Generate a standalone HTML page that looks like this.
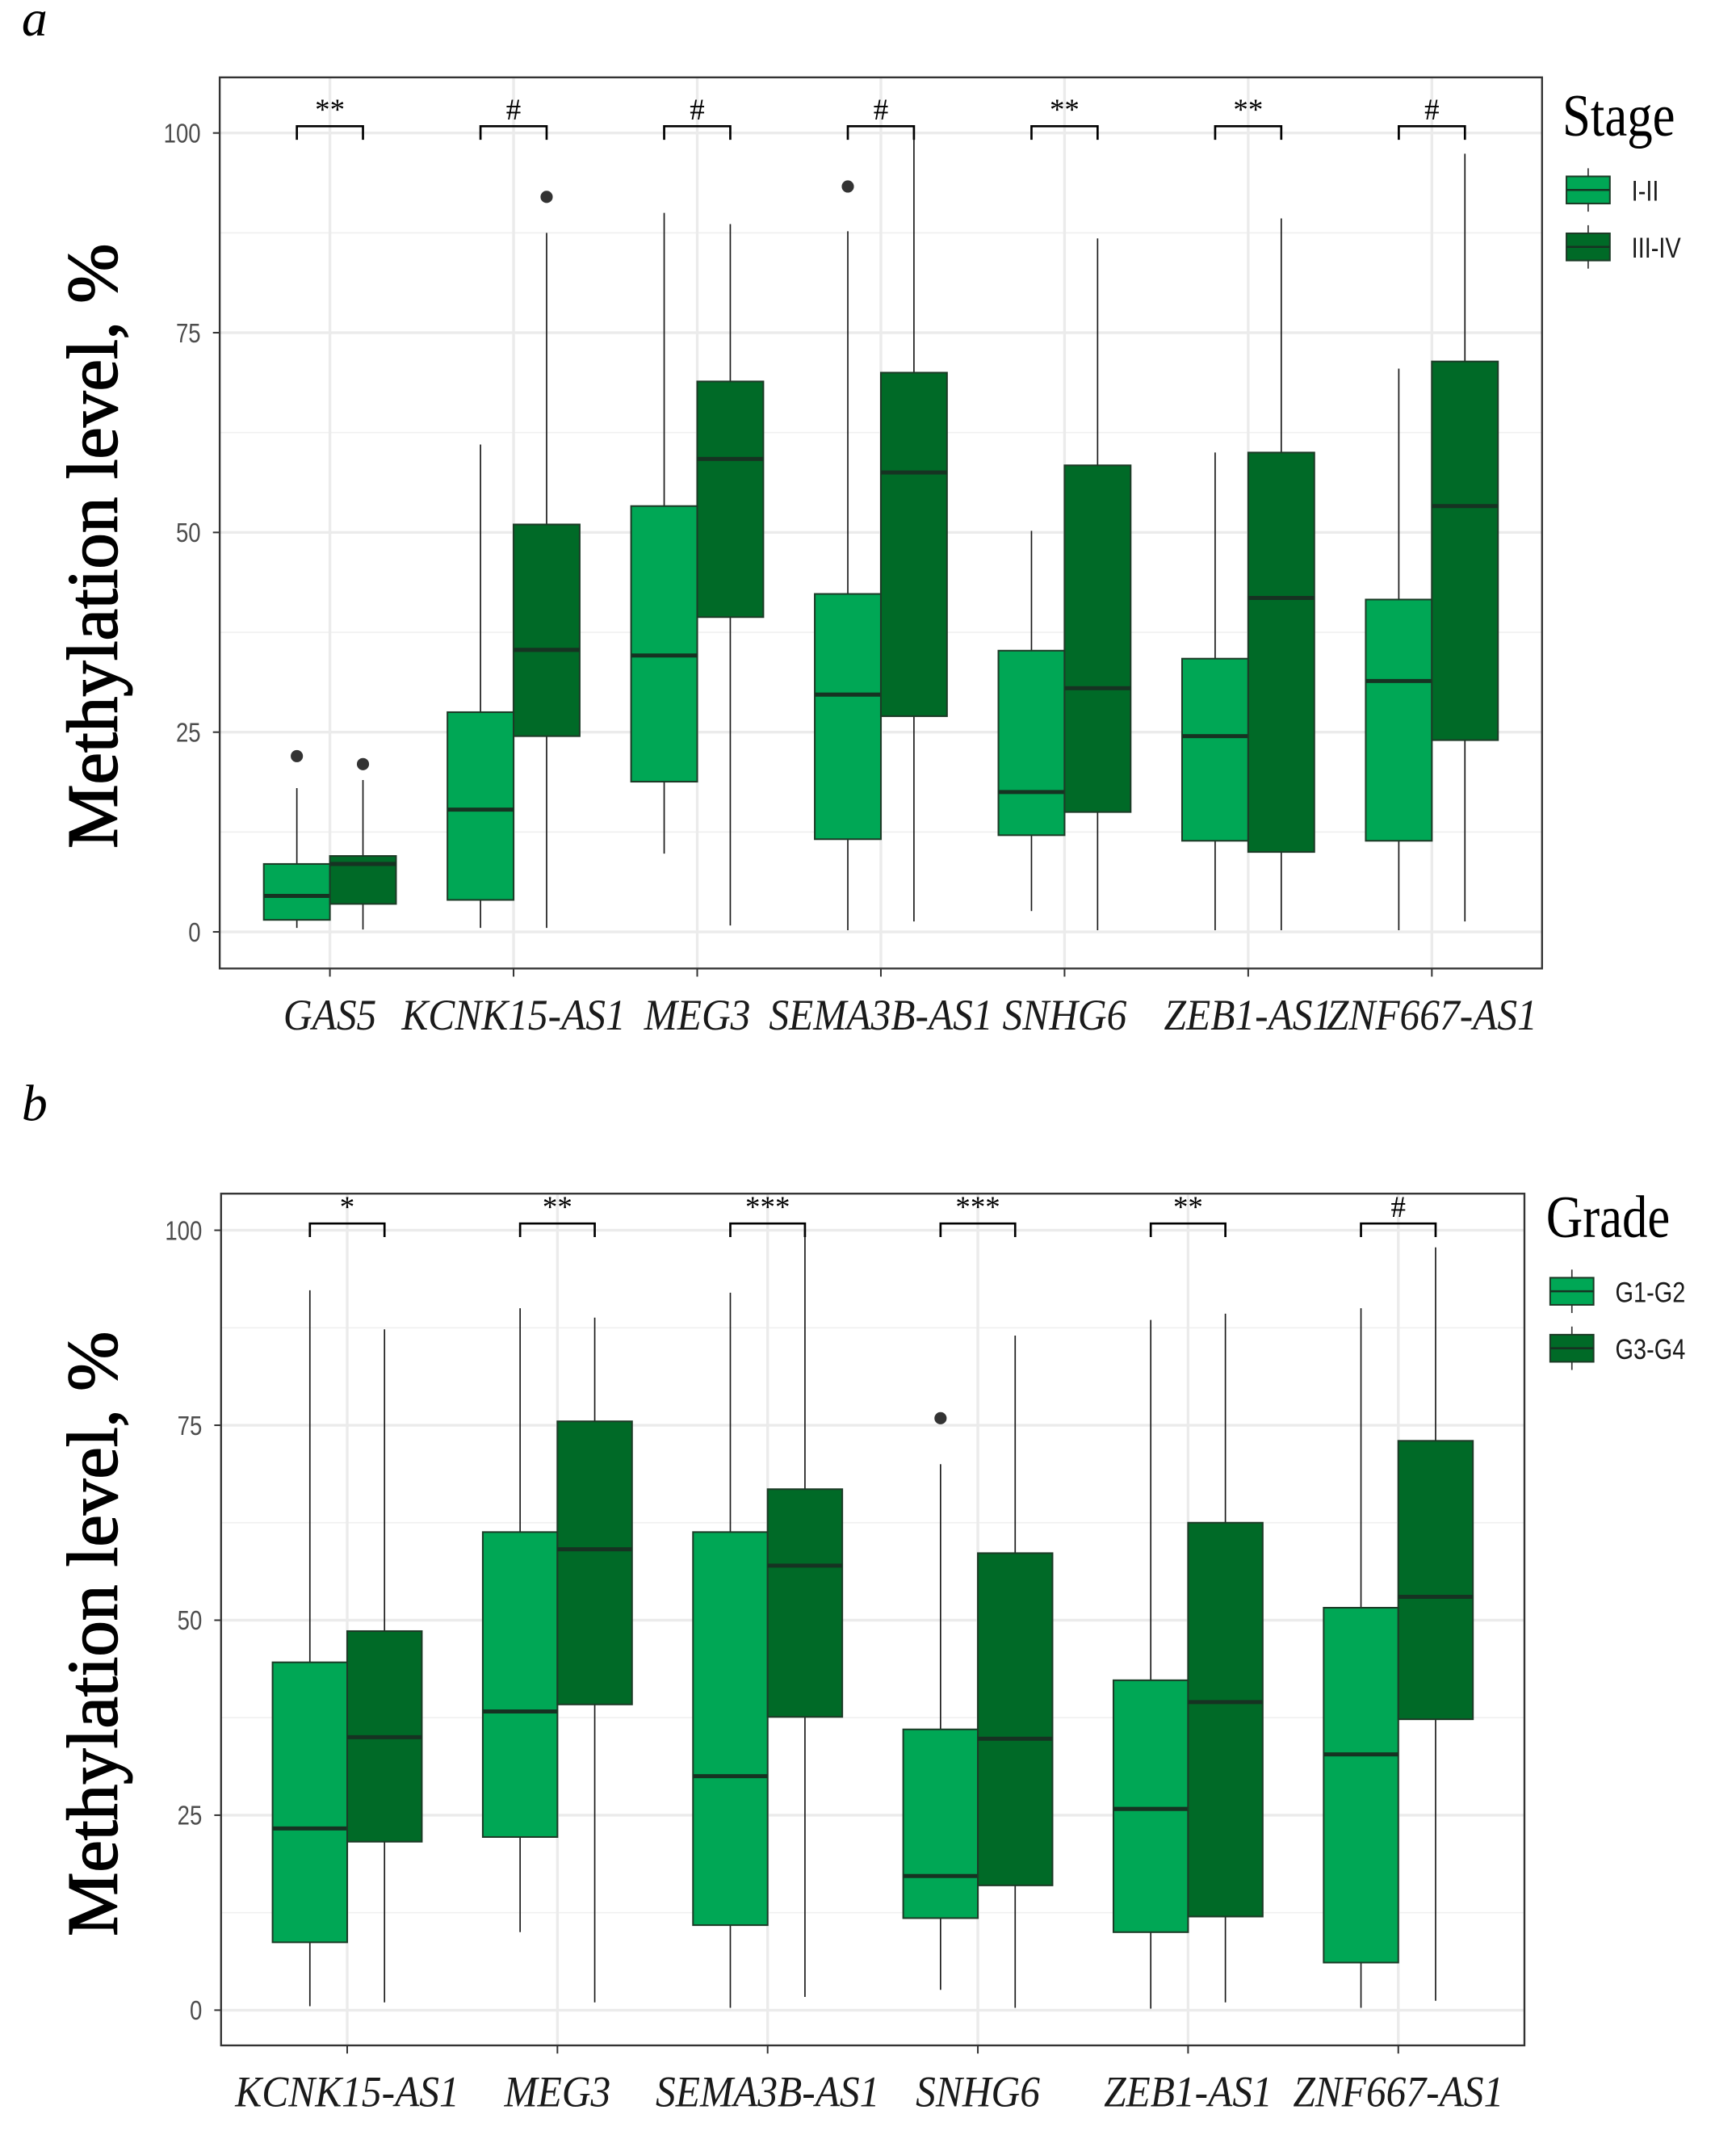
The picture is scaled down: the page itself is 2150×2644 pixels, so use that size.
<!DOCTYPE html>
<html><head><meta charset="utf-8"><style>
html,body{margin:0;padding:0;background:#fff}
svg{display:block}
.tick{font-family:"Liberation Sans Narrow","Liberation Sans",sans-serif;font-size:20px;fill:#4d4d4d}
.xl{font-family:"Liberation Serif",serif;font-style:italic;font-size:32px;fill:#1a1a1a}
.yt{font-family:"Liberation Serif",serif;font-size:53px;fill:#000;stroke:#000;stroke-width:0.9px}
.lt{font-family:"Liberation Serif",serif;font-size:44px;fill:#000}
.ll{font-family:"Liberation Sans",sans-serif;font-size:21px;fill:#1a1a1a}
.pl{font-family:"Liberation Serif",serif;font-style:italic;font-size:38px;fill:#000}
.sig{font-family:"Liberation Serif",serif;font-size:22px;fill:#000}
</style></head><body>
<svg id="fig" width="2150" height="2644" viewBox="0 0 1280 1574" xmlns="http://www.w3.org/2000/svg"></svg>
<script>
// Panel a data
const catsA = ["GAS5","KCNK15-AS1","MEG3","SEMA3B-AS1","SNHG6","ZEB1-AS1","ZNF667-AS1"];
const sigA = ["**","#","#","#","**","**","#"];
const lowA1 = [0.5,0.5,9.8,0.2,2.6,0.2,0.2];
const q1A1 = [1.5,4,18.8,11.6,12.1,11.4,11.4];
const medA1 = [4.5,15.3,34.6,29.7,17.5,24.5,31.4];
const q3A1 = [8.5,27.5,53.3,42.3,35.2,34.2,41.6];
const highA1 = [18,61,90,87.7,50.2,60,70.5];
const outA1 = [22,null,null,93.3,null,null,null];
const lowA2 = [0.3,0.5,0.8,1.3,0.2,0.2,1.3];
const q1A2 = [3.5,24.5,39.4,27,15,10,24];
const medA2 = [8.5,35.3,59.2,57.5,30.5,41.8,53.3];
const q3A2 = [9.5,51,68.9,70,58.4,60,71.4];
const highA2 = [19,87.5,88.6,99.5,86.8,89.3,97.4];
const outA2 = [21,92,null,null,null,null,null];
// Panel b data
const catsB = ["KCNK15-AS1","MEG3","SEMA3B-AS1","SNHG6","ZEB1-AS1","ZNF667-AS1"];
const sigB = ["*","**","***","***","**","#"];
const lowB1 = [0.5,10,0.3,2.6,0.2,0.3];
const q1B1 = [8.7,22.2,10.9,11.8,10,6.1];
const medB1 = [23.3,38.3,30,17.2,25.8,32.8];
const q3B1 = [44.6,61.3,61.3,36,42.3,51.6];
const highB1 = [92.3,90,92,70,88.5,90];
const outB1 = [null,null,null,75.9,null,null];
const lowB2 = [1,1,1.7,0.3,1,1.2];
const q1B2 = [21.6,39.2,37.6,16,12,37.3];
const medB2 = [35,59.1,57,34.8,39.5,53];
const q3B2 = [48.6,75.5,66.8,58.6,62.5,73];
const highB2 = [87.3,88.8,99.6,86.5,89.3,97.8];
const outB2 = [null,null,null,null,null,null];
const yTicks = [0,25,50,75,100];

const NS="http://www.w3.org/2000/svg";
const svg=document.getElementById('fig');
function mk(tag,attrs,parent){const e=document.createElementNS(NS,tag);for(const k in attrs)e.setAttribute(k,attrs[k]);(parent||svg).appendChild(e);return e;}
function txt(x,y,sx,anchor,cls,parent,str){const t=mk('text',{x:0,y:0,'text-anchor':anchor,class:cls,transform:`translate(${x} ${y}) scale(${sx} 1)`},parent);t.textContent=str;return t;}
const LIGHT="#00a755", DARK="#006a27", EDGE="#1c3a26";

function panel(cfg){
  const g=mk('g',{});
  
  
  const {L,R,T,B,y0,y100,cats}=cfg;
  const ys=v=>y0+(y100-y0)*v/100;
  const unit=(R-L)/(cats.length+0.2);
  const xs=i=>L+(i+0.6)*unit;
  const bw=unit*cfg.bf;
  for(let v=12.5;v<=100;v+=25){const l=mk('line',{x1:L,x2:R,y1:ys(v),y2:ys(v),stroke:'#f0f0f0','stroke-width':1},g);}
  yTicks.forEach(v=>{const l=mk('line',{x1:L,x2:R,y1:ys(v),y2:ys(v),stroke:'#ebebeb','stroke-width':2},g);
    const t=txt(L-14,ys(v)+7,0.82,'end','tick',g,String(v));
    mk('line',{x1:L-5,x2:L,y1:ys(v),y2:ys(v),stroke:'#333','stroke-width':1.2},g);});
  cats.forEach((c,i)=>{const l=mk('line',{x1:xs(i),x2:xs(i),y1:T,y2:B,stroke:'#ebebeb','stroke-width':2},g);
    mk('line',{x1:xs(i),x2:xs(i),y1:B,y2:B+6,stroke:'#333','stroke-width':1.2},g);
    const t=txt(xs(i),B+45,0.92,'middle','xl',g,c);});
  const series=[[cfg.s1,LIGHT,-1],[cfg.s2,DARK,1]];
  cats.forEach((c,i)=>{
    series.forEach(([s,col,side])=>{
      const cx=xs(i)+side*bw/2;
      const wl=mk('line',{x1:cx,x2:cx,y1:ys(s.low[i]),y2:ys(s.high[i]),stroke:'#1a1a1a','stroke-width':1},g);
      
      const r=mk('rect',{x:cx-bw/2,y:ys(s.q3[i]),width:bw,height:ys(s.q1[i])-ys(s.q3[i]),fill:col,stroke:EDGE,'stroke-width':1.2},g);
      
      const m=mk('line',{x1:cx-bw/2,x2:cx+bw/2,y1:ys(s.med[i]),y2:ys(s.med[i]),stroke:'#163322','stroke-width':3},g);
      
      if(s.out[i]!=null){const o=mk('circle',{cx:cx,cy:ys(s.out[i]),r:4.5,fill:'#333'},g);}
    });
    const bx1=xs(i)-bw/2, bx2=xs(i)+bw/2, by=ys(100)-5;
    const br=mk('path',{d:`M${bx1} ${by+10}V${by}H${bx2}V${by+10}`,fill:'none',stroke:'#000','stroke-width':1.6},g);
    
    const st=mk('text',{x:xs(i),y:by-5,'text-anchor':'middle',class:'sig'},g);st.textContent=cfg.sig[i];
    
  });
  const fr=mk('rect',{x:L,y:T,width:R-L,height:B-T,fill:'none',stroke:'#333','stroke-width':1.4},g);
  
  const yt=mk('text',{x:0,y:0,'text-anchor':'middle',class:'yt',transform:`translate(86 ${(ys(0)+ys(100))/2+10}) rotate(-90)`},g);
  yt.textContent='Methylation level, %';
  const lg=mk('g',{},g);
  const lt=txt(cfg.lx-3,cfg.ly,0.85,'start','lt',lg,cfg.ltitle);
  [[LIGHT,cfg.l1],[DARK,cfg.l2]].forEach(([col,lab],k)=>{
    const ky=cfg.ly+30+k*42;
    const e=mk('g',{},lg);
    mk('line',{x1:cfg.lx+16,x2:cfg.lx+16,y1:ky-6,y2:ky+26,stroke:'#333','stroke-width':1},e);
    mk('rect',{x:cfg.lx,y:ky,width:32,height:20,fill:col,stroke:EDGE,'stroke-width':1.2},e);
    mk('line',{x1:cfg.lx,x2:cfg.lx+32,y1:ky+10,y2:ky+10,stroke:'#163322','stroke-width':1.5},e);
    txt(cfg.lx+48,ky+18,0.82,'start','ll',e,lab);
  });
}
panel({name:'panel-a-stage',L:162,R:1137,T:57,B:714,y0:687,y100:98,cats:catsA,sig:sigA,bf:0.36,
  s1:{low:lowA1,q1:q1A1,med:medA1,q3:q3A1,high:highA1,out:outA1},
  s2:{low:lowA2,q1:q1A2,med:medA2,q3:q3A2,high:highA2,out:outA2},
  lx:1155,ly:100,ltitle:'Stage',l1:'I-II',l2:'III-IV'});
panel({name:'panel-b-grade',L:163,R:1124,T:880,B:1508,y0:1482,y100:907,cats:catsB,sig:sigB,bf:0.355,
  s1:{low:lowB1,q1:q1B1,med:medB1,q3:q3B1,high:highB1,out:outB1},
  s2:{low:lowB2,q1:q1B2,med:medB2,q3:q3B2,high:highB2,out:outB2},
  lx:1143,ly:912,ltitle:'Grade',l1:'G1-G2',l2:'G3-G4'});
const pa=mk('text',{x:16,y:26,class:'pl'});pa.textContent='a';


const pb=mk('text',{x:16,y:826,class:'pl'});pb.textContent='b';


</script>
</body></html>
